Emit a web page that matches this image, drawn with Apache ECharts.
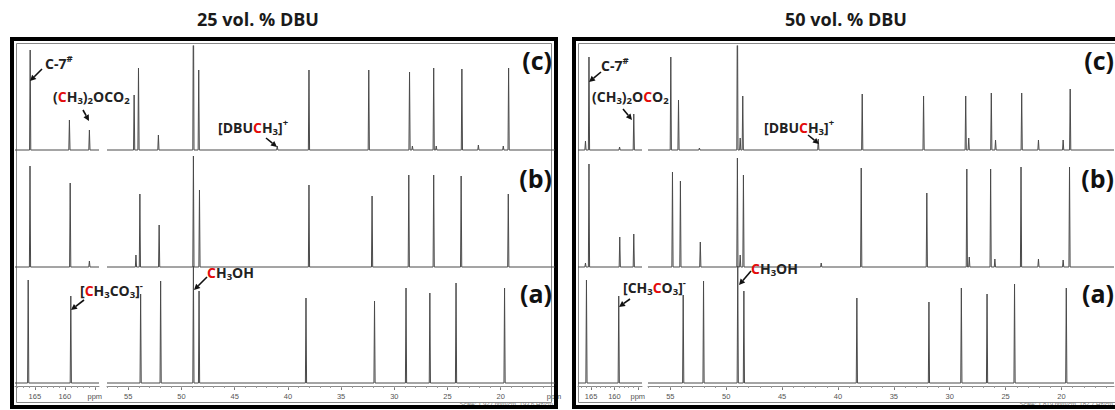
<!DOCTYPE html>
<html><head><meta charset="utf-8">
<script src="https://cdn.jsdelivr.net/npm/echarts@6/dist/echarts.min.js"></script>
<style>html,body{margin:0;padding:0;background:#fff}#c{width:1115px;height:410px}</style>
</head><body><div id="c"></div>
<script>
// ---------------- data (13C NMR peak positions in ppm, relative intensities) ----------------
const panelTitles = ['25 vol. % DBU', '50 vol. % DBU'];
const rowLabels = ['(a)', '(b)', '(c)'];
const labelsLow = [155, 160, 165];                 // 155 position carries "ppm"
const labelsHigh = [15, 20, 25, 30, 35, 40, 45, 50, 55]; // 15 position carries "ppm"
const ticksLowMajor = [155, 160, 165];
const ticksHighMajor = [15, 20, 25, 30, 35, 40, 45, 50, 55];
const axisLow25 = [154.3, 168.3], axisHigh25 = [14.9, 57.0];
const axisLow50 = [154.1, 167.8], axisHigh50 = [15.3, 57.0];
const scaleText25 = 'Scale: 1.927 ppm/cm, 193.6 Hz/cm';
const scaleText50 = 'Scale: 1.819 ppm/cm, 182.7 Hz/cm';

// 25 vol.% DBU
const ppm25a = [166.1, 159.0, 53.84, 51.96, 48.88, 48.35, 38.30, 31.86, 28.90, 26.66, 24.20, 19.64];
const int25a = [103, 87, 89, 102, 117, 92, 85, 82, 95, 90, 100, 95];
const ppm25b = [165.8, 159.1, 155.9, 54.28, 53.91, 52.10, 48.88, 48.31, 38.02, 32.09, 28.64, 26.30, 23.72, 19.29];
const int25b = [101, 84, 6, 12, 73, 42, 111, 77, 82, 71, 92, 92, 91, 73];
const ppm25c = [165.77, 159.23, 155.9, 54.45, 54.04, 52.17, 48.88, 48.38, 41.0, 38.02, 32.40, 28.57, 28.30, 26.30, 26.06, 23.65, 22.10, 19.76, 19.26];
const int25c = [100, 30, 20, 55, 82, 15, 160, 80, 4, 80, 80, 78, 4, 82, 4, 81, 5, 4, 82];
// 50 vol.% DBU
const ppm50a = [165.99, 159.08, 53.85, 52.03, 48.97, 48.42, 38.31, 31.86, 28.96, 26.66, 24.20, 19.57];
const int50a = [103, 87, 88, 102, 117, 92, 85, 81, 95, 89, 99, 95];
const ppm50b = [166.2, 165.45, 158.86, 155.86, 54.81, 54.10, 52.32, 49.00, 48.75, 48.46, 41.5, 37.92, 32.05, 28.47, 28.25, 26.34, 25.96, 23.62, 22.06, 19.85, 19.28];
const int50b = [4, 103, 30, 33, 95, 86, 25, 109, 12, 92, 4, 99, 74, 98, 10, 98, 8, 100, 8, 7, 100];
const ppm50c = [166.2, 165.45, 158.9, 155.86, 54.96, 54.27, 52.4, 49.0, 48.75, 48.52, 41.76, 37.83, 32.34, 28.57, 28.30, 26.28, 25.90, 23.56, 22.06, 19.85, 19.22];
const int50c = [9, 93, 3, 36, 93, 50, 2, 160, 12, 54, 11, 56, 54, 54, 12, 57, 10, 57, 10, 10, 61];

// ---------------- layout ----------------
const FONT = 'Open Sans';
const GRID_TOP = 46, GRID_H = 340;
const Y_MIN = -3, Y_MAX = 337;
const ROW_OFF = [0, 116, 233];
const panels = [
  { low: axisLow25, high: axisHigh25, lowBox: [15, 84], highBox: [107, 448],
    rows: [[ppm25a, int25a], [ppm25b, int25b], [ppm25c, int25c]] },
  { low: axisLow50, high: axisHigh50, lowBox: [578, 64], highBox: [648, 466],
    rows: [[ppm50a, int50a], [ppm50b, int50b], [ppm50c, int50c]] }
];

function sticks(ppms, ints, lo, hi, off, w) {
  const idx = ppms.map((p, i) => i).filter(i => ppms[i] >= lo && ppms[i] <= hi)
    .sort((a, b) => ppms[b] - ppms[a]);
  const pts = [[hi, off]];
  idx.forEach(i => {
    pts.push([ppms[i] + w, off], [ppms[i], off + ints[i]], [ppms[i] - w, off]);
  });
  pts.push([lo, off]);
  return pts;
}
function intsBetween(lo, hi) {
  const a = [];
  for (let v = Math.ceil(lo); v <= Math.floor(hi); v++) a.push(v);
  return a;
}

const grid = [], xAxis = [], yAxis = [], series = [];
panels.forEach((pn, pi) => {
  [['low', pn.lowBox, labelsLow, ticksLowMajor], ['high', pn.highBox, labelsHigh, ticksHighMajor]].forEach(([key, box, labs, majors]) => {
    const g = grid.length;
    const [lo, hi] = pn[key];
    grid.push({ left: box[0], width: box[1], top: GRID_TOP, height: GRID_H, containLabel: false });
    const common = { gridIndex: g, type: 'value', inverse: true, min: lo, max: hi, position: 'bottom', splitLine: { show: false } };
    xAxis.push(Object.assign({}, common, {
      axisLine: { show: true, onZero: false, lineStyle: { color: '#8a8a8a', width: 1 } },
      axisTick: { show: true, customValues: majors.filter(v => v >= lo && v <= hi), length: 4, lineStyle: { color: '#777' } },
      axisLabel: { show: true, customValues: labs.filter(v => v >= lo && v <= hi), showMinLabel: true, showMaxLabel: true,
        formatter: v => (v === 155 || v === 15) ? 'ppm' : String(v),
        fontSize: 7.5, color: '#555', margin: 6, fontFamily: 'Liberation Sans' }
    }));
    xAxis.push(Object.assign({}, common, {
      axisLine: { show: false, onZero: false },
      axisTick: { show: true, customValues: intsBetween(lo, hi), length: 2, lineStyle: { color: '#999' } },
      axisLabel: { show: false }
    }));
    yAxis.push({ gridIndex: g, type: 'value', min: Y_MIN, max: Y_MAX, show: false, splitLine: { show: false } });
    const w = 0.6 * (hi - lo) / box[1];
    pn.rows.forEach(([pp, ii], ri) => {
      series.push({
        type: 'line', xAxisIndex: 2 * g, yAxisIndex: g, data: sticks(pp, ii, lo, hi, ROW_OFF[ri], w),
        symbol: 'none', showSymbol: false, silent: true, animation: false, clip: true,
        lineStyle: { color: '#4a4a4a', width: 1 }
      });
    });
  });
});

// ---------------- annotations ----------------
const rich = {
  n: { fontSize: 14, fontWeight: 'bold', color: '#222', fontFamily: FONT, lineHeight: 19 },
  r: { fontSize: 14, fontWeight: 'bold', color: '#e30b0b', fontFamily: FONT, lineHeight: 19 },
  s: { fontSize: 9.5, fontWeight: 'bold', color: '#222', fontFamily: FONT, verticalAlign: 'bottom', lineHeight: 10 },
  p: { fontSize: 9.5, fontWeight: 'bold', color: '#222', fontFamily: FONT, verticalAlign: 'top', lineHeight: 10 }
};
const notes = [
  { t: '{n|C-7}{p|#}', x: 45, y: 63, a: [42, 69, 30, 81] },
  { t: '{n|(}{r|C}{n|H}{s|3}{n|)}{s|2}{n|OCO}{s|2}', x: 53, y: 96, a: [83, 110, 89, 121] },
  { t: '{n|[DBU}{r|C}{n|H}{s|3}{n|]}{p|+}', x: 218, y: 127, a: [266, 138, 277, 147] },
  { t: '{n|[}{r|C}{n|H}{s|3}{n|CO}{s|3}{n|]}{p|-}', x: 80, y: 290, a: [84, 300, 71, 310] },
  { t: '{r|C}{n|H}{s|3}{n|OH}', x: 207, y: 272, a: [207, 277, 194, 290] },
  { t: '{n|C-7}{p|#}', x: 601, y: 65, a: [601, 72, 589, 82] },
  { t: '{n|(CH}{s|3}{n|)}{s|2}{n|O}{r|C}{n|O}{s|2}', x: 592, y: 96, a: [623, 109, 632, 120] },
  { t: '{n|[DBU}{r|C}{n|H}{s|3}{n|]}{p|+}', x: 764, y: 127, a: [808, 135, 819, 144] },
  { t: '{n|[CH}{s|3}{r|C}{n|O}{s|3}{n|]}{p|-}', x: 623, y: 287, a: [630, 299, 619, 307] },
  { t: '{r|C}{n|H}{s|3}{n|OH}', x: 751, y: 268, a: [751, 271, 739, 285] }
];
const title = notes.map(n => ({ text: n.t, left: n.x, top: n.y - 9.5, padding: 0, textStyle: { rich } }));

function arrow(x1, y1, x2, y2) {
  const dx = x2 - x1, dy = y2 - y1, L = Math.hypot(dx, dy), ux = dx / L, uy = dy / L;
  const hl = 6, hw = 3, bx = x2 - ux * hl, by = y2 - uy * hl;
  return [
    { type: 'line', shape: { x1, y1, x2: bx, y2: by }, style: { stroke: '#111', lineWidth: 1.6 }, z: 10 },
    { type: 'polygon', shape: { points: [[x2, y2], [bx - uy * hw, by + ux * hw], [bx + uy * hw, by - ux * hw]] }, style: { fill: '#111' }, z: 10 }
  ];
}

const graphic = [];
// frames
[[12, 39, 544, 368], [574, 39, 548, 368]].forEach(([x, y, w, h]) => {
  graphic.push({ type: 'rect', shape: { x, y, width: w, height: h }, style: { fill: 'none', stroke: '#000', lineWidth: 4 }, z: 1 });
  graphic.push({ type: 'rect', shape: { x: x + 4.5, y: y + 4.5, width: w - 9, height: h - 9 }, style: { fill: 'none', stroke: '#888', lineWidth: 1 }, z: 1 });
});
// panel titles
[[258, panelTitles[0]], [846, panelTitles[1]]].forEach(([x, t]) => {
  graphic.push({ type: 'text', x, y: 19, style: { text: t, fontSize: 18, fontWeight: 'bold', fontFamily: FONT, fill: '#1a1a1a', textAlign: 'center', textVerticalAlign: 'middle' } });
});
// row labels
[552, 1114].forEach(xr => {
  [293, 178, 60].forEach((yc, i) => {
    graphic.push({ type: 'text', x: xr, y: yc, style: { text: rowLabels[i], fontSize: 25, fontWeight: 'bold', fontFamily: FONT, fill: '#111', textAlign: 'right', textVerticalAlign: 'middle' }, z: 10 });
  });
});
// scale captions
graphic.push({ type: 'text', x: 553, y: 404, style: { text: scaleText25, fontSize: 6, fontFamily: 'Liberation Sans', fill: '#777', textAlign: 'right', textVerticalAlign: 'middle' } });
graphic.push({ type: 'text', x: 1113, y: 404, style: { text: scaleText50, fontSize: 6, fontFamily: 'Liberation Sans', fill: '#777', textAlign: 'right', textVerticalAlign: 'middle' } });
notes.forEach(n => graphic.push(...arrow(...n.a)));

const chart = echarts.init(document.getElementById('c'), null, { renderer: 'svg' });
chart.setOption({
  animation: false,
  backgroundColor: '#fff',
  title, grid, xAxis, yAxis, series, graphic
});
</script>
</body></html>
